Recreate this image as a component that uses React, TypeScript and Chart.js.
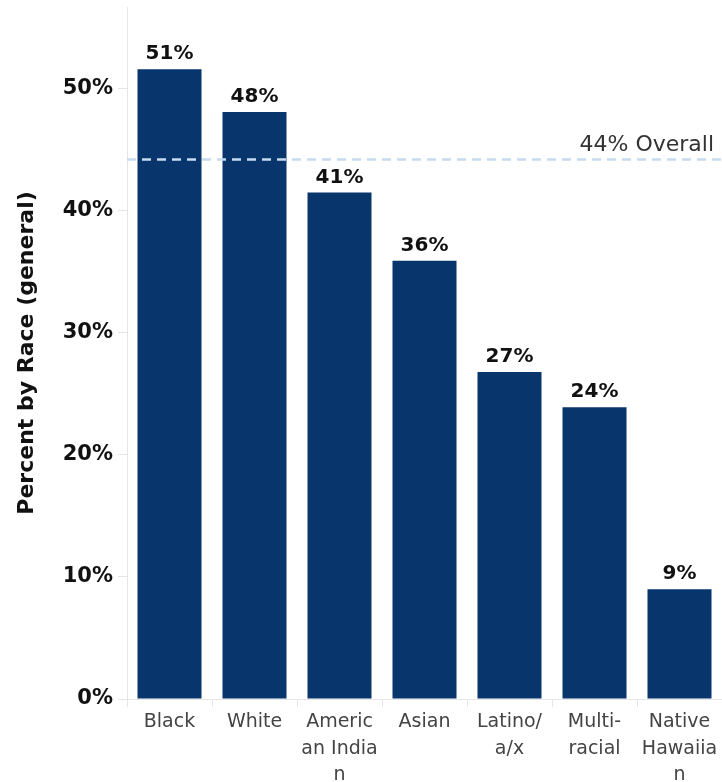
import React, { useEffect, useRef } from "react";
import { Chart, registerables } from "chart.js";

Chart.register(...registerables);

const categories: string[][] = [
  ["Black"],
  ["White"],
  ["Americ", "an India", "n"],
  ["Asian"],
  ["Latino/", "a/x"],
  ["Multi-", "racial"],
  ["Native", "Hawaiia", "n"],
];
const values: number[] = [51.6, 48.1, 41.5, 35.9, 26.8, 23.9, 9.0];
const valueLabels: string[] = ["51%", "48%", "41%", "36%", "27%", "24%", "9%"];
const overallValue = 44.2;
const overallLabel = "44% Overall";
const yTitle = "Percent by Race (general)";
const yMax = 56.7;

const FONT = "'DejaVu Sans', sans-serif";

const overlayPlugin = {
  id: "overlay",
  afterDatasetsDraw(chart: any) {
    const { ctx, chartArea, scales } = chart;
    const y = scales.y.getPixelForValue(overallValue);
    ctx.save();
    ctx.strokeStyle = "#c6dbef";
    ctx.lineWidth = 2.5;
    ctx.setLineDash([9, 6]);
    ctx.beginPath();
    ctx.moveTo(chartArea.left, y);
    ctx.lineTo(chartArea.right, y);
    ctx.stroke();
    ctx.setLineDash([]);
    ctx.fillStyle = "#333333";
    ctx.font = `normal 22px ${FONT}`;
    ctx.textAlign = "right";
    ctx.textBaseline = "alphabetic";
    ctx.fillText(overallLabel, chartArea.right - 8, y - 9);

    const meta = chart.getDatasetMeta(0);
    ctx.fillStyle = "#111111";
    ctx.font = `bold 20px ${FONT}`;
    ctx.textAlign = "center";
    ctx.textBaseline = "alphabetic";
    meta.data.forEach((bar: any, i: number) => {
      ctx.fillText(valueLabels[i], bar.x, bar.y - 10);
    });
    ctx.restore();
  },
};

export default function App() {
  const ref = useRef<HTMLCanvasElement | null>(null);
  useEffect(() => {
    if (!ref.current) return;
    const chart = new Chart(ref.current, {
      type: "bar",
      data: {
        labels: categories,
        datasets: [
          {
            data: values,
            backgroundColor: "#08356b",
            borderWidth: 0,
            categoryPercentage: 1,
            barPercentage: 0.753,
          },
        ],
      },
      options: {
        animation: false,
        responsive: false,
        maintainAspectRatio: false,
        layout: { padding: { top: 7, left: 0, right: 0, bottom: 0 } },
        plugins: {
          legend: { display: false },
          tooltip: { enabled: false },
        },
        scales: {
          x: {
            grid: {
              drawOnChartArea: false,
              drawTicks: true,
              tickLength: 8,
              color: "#e6e6e6",
              offset: true,
            },
            border: { display: true, color: "#e6e6e6" },
            ticks: {
              color: "#444444",
              font: { family: FONT, size: 19, lineHeight: 1.4 },
              padding: 2,
              maxRotation: 0,
              autoSkip: false,
            },
            afterFit: (scale: any) => {
              scale.height = 83;
              scale.paddingLeft = 0;
              scale.paddingRight = 0;
            },
          },
          y: {
            min: 0,
            max: yMax,
            grid: {
              drawOnChartArea: false,
              drawTicks: true,
              tickLength: 9,
              color: "#e6e6e6",
            },
            border: { display: true, color: "#e6e6e6" },
            ticks: {
              stepSize: 10,
              color: "#111111",
              font: { family: FONT, size: 21, weight: "bold" },
              padding: 5,
              callback: (v: any) => `${v}%`,
            },
            afterBuildTicks: (scale: any) => {
              scale.ticks = scale.ticks.filter((t: any) => t.value % 10 === 0);
            },
            title: {
              display: true,
              text: yTitle,
              color: "#111111",
              font: { family: FONT, size: 22, weight: "bold" },
              padding: { top: 14, bottom: 0 },
            },
            afterFit: (scale: any) => {
              scale.width = 127;
              scale.paddingTop = 0;
              scale.paddingBottom = 0;
            },
          },
        },
      },
      plugins: [overlayPlugin],
    });
    return () => chart.destroy();
  }, []);
  return (
    <div style={{ position: "absolute", left: 0, top: 0, width: 722, height: 782, background: "#fff" }}>
      <canvas ref={ref} width={722} height={782} style={{ display: "block" }} />
    </div>
  );
}
